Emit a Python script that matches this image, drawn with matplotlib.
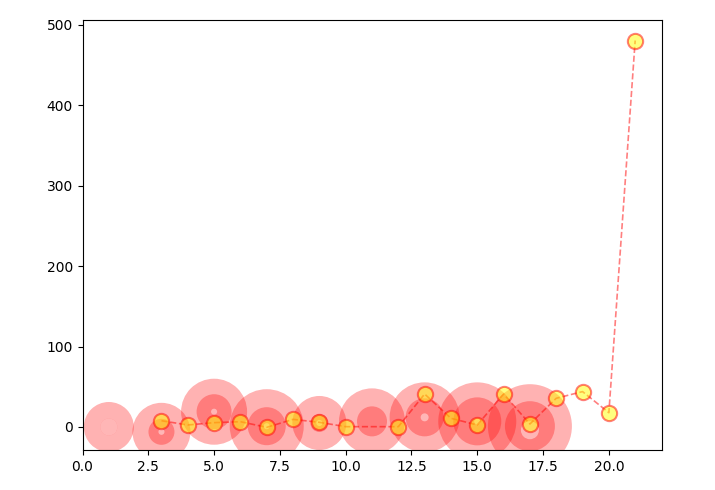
import matplotlib
matplotlib.use('Agg')
import matplotlib.pyplot as plt

# bubble layers (same centres, three sizes)
bubble_x = [1, 3, 5, 7, 9, 11, 13, 15, 17]
bubble_y = [0, -6, 19, 1, 5, 7, 12, 7, 1]
big_size = [1296, 1744, 2258, 2839, 1512, 2258, 2540, 3154, 3658]
mid_size = [150, 350, 635, 749, 168, 467, 749, 1194, 1296]
dot_y = [0, -6, 19, 1, 5, 7, 12, 7, -4]
dot_size = [150, 19, 19, 19, 19, 0, 33, 19, 168]

# dashed line with markers
line_x = [3, 4, 5, 6, 7, 8, 9, 10, 12, 13, 14, 15, 16, 17, 18, 19, 20, 21]
line_y = [7.8, 2.5, 5.4, 6.6, -0.4, 9.5, 5.8, 0.4, 0.4, 41, 10.8, 2.5, 41, 3.7,
          35.7, 44, 17.8, 480.5]

fig = plt.figure(figsize=(7.15, 4.9), dpi=100)
ax = fig.add_axes([82.5 / 715, 1 - 450 / 490, 579 / 715, 430 / 490])

ax.scatter(bubble_x, bubble_y, s=big_size, color='red', alpha=0.3, linewidths=0)
ax.scatter(bubble_x, bubble_y, s=mid_size, color='red', alpha=0.3, linewidths=0)
ax.scatter(bubble_x, dot_y, s=dot_size, color='white', alpha=0.45, linewidths=0)

ax.plot(line_x, line_y, 'r--', marker='o', markersize=11, markeredgewidth=1.5,
        markerfacecolor='yellow', markeredgecolor='red', linewidth=1.2, alpha=0.5)

ax.set_xlim(0, 22)
ax.set_ylim(-28.6, 506)

fig.savefig('out.png', dpi=100)
